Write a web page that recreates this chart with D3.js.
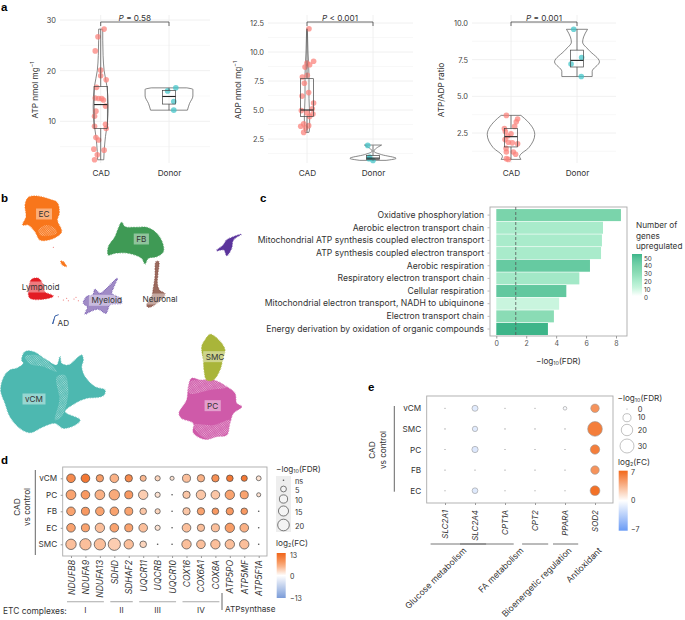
<!DOCTYPE html>
<html><head><meta charset="utf-8">
<script src="https://cdn.jsdelivr.net/npm/d3@7"></script>
<style>
html,body{margin:0;padding:0;background:#fff}
svg{display:block}
text{font-family:"Inter","Noto Sans",sans-serif;fill:#333}
</style></head><body>
<svg id="c" width="685" height="620"></svg>
<script>
// ---------- panel a ----------
const groupsA = ["CAD","Donor"];
const atpCadOffset = [.05,-.04,-.08,0,0,.08,-.06,-.08,-.03,.015,.04,.07,-.07,-.09,-.09,.07,.08,-.07,-.03,-.1,.05,-.05,-.09];
const atpCadValue  = [28.2,26.7,23.9,20.1,19,18.2,16.7,14.6,14.5,14.5,14.2,13,12,11,9,9.4,8.6,6.8,6.3,4.5,4.3,3.4,2.4];
const atpDonorOffset = [-.02,.1,.07,.07];
const atpDonorValue  = [16,16.6,13.9,12.2];
const adpCadOffset = [.03,.1,0,.04,-.03,.005,-.07,-.04,.025,-.075,.1,-.085,.08,0,.09,.04,-.095,-.05,.025,-.02,-.05];
const adpCadValue  = [12,9.2,9.05,8.9,8.7,8,7.85,7.3,6.5,6.2,5.6,4.95,5.1,4.75,4.65,4.45,3.6,3.8,3.65,3.45,3.07];
const adpDonorOffset = [-.08,-.05,0,-.06];
const adpDonorValue  = [1.95,.95,.65,.8];
const ratioCadOffset = [-.07,.1,.08,.055,-.1,-.085,0,-.05,-.09,-.04,.02,.1,-.075,-.07,.035,.07,-.07,-.04];
const ratioCadValue  = [3.7,3.45,3.27,2.95,2.8,2.6,2.45,2.3,2.05,1.87,1.83,1.76,1.45,1.2,1.2,1.05,.75,.7];
const ratioDonorOffset = [-.05,.07,-.09,.065];
const ratioDonorValue  = [9.57,7.65,7.2,6.35];
// violin outlines: value, half width (category units)
const atpCadViolinV = [28.2,26,23,20,17,13,10,7,4,2.4];
const atpCadViolinW = [.03,.03,.035,.05,.09,.11,.1,.07,.05,.045];
const atpDonorViolinV = [16.6,16.3,15,13.5,12.2];
const atpDonorViolinW = [.26,.35,.35,.3,.27];
const adpCadViolinV = [12,10,8,6,4.5,3.5,3.07];
const adpCadViolinW = [.005,.015,.03,.03,.04,.04,.03];
const adpDonorViolinV = [1.98,1.44,1.15,.83,.66];
const adpDonorViolinW = [.13,.015,.13,.35,.2];
const ratioCadViolinV = [3.7,3.3,2.4,1.5,.9,.7];
const ratioCadViolinW = [.15,.25,.36,.27,.13,.15];
const ratioDonorViolinV = [9.57,9.05,8.7,8.15,7.35,6.7,6.35];
const ratioDonorViolinW = [.16,.1,.085,.18,.34,.23,.23];
// box stats: whisker low, q1, median, q3, whisker high
const atpCadBox = [2.4,8.6,13.3,16.9,28.2];
const atpDonorBox = [12.2,13.4,14.9,16.1,16.6];
const adpCadBox = [3.07,4.45,5,7.7,12];
const adpDonorBox = [.65,.72,.85,1.08,1.95];
const ratioCadBox = [.7,1.55,2.25,2.8,3.7];
const ratioDonorBox = [6.35,7,7.45,8.15,9.57];
const atpTicks=[10,20,30], atpMinor=[5,15,25];
const adpTicks=[2.5,5,7.5,10,12.5], adpMinor=[1.25,3.75,6.25,8.75,11.25];
const ratioTicks=[2.5,5,7.5,10], ratioMinor=[1.25,3.75,6.25,8.75];

// ---------- panel b: cluster outlines, in picture-read UMAP units ----------
const umapEC=[[85,22],[110,18],[150,28],[172,38],[178,70],[172,90],[185,125],[170,140],[145,150],[120,150],[105,125],[85,105],[68,105],[78,80],[75,45]];
const umapECHole=[[115,120],[140,105],[165,115],[170,130],[145,138],[120,135]];
const umapECSmall=[[182,213],[190,215],[200,230],[188,226]];
const umapFB=[[365,97],[375,110],[405,112],[440,112],[470,130],[488,160],[490,185],[470,200],[445,205],[435,222],[425,205],[385,190],[345,190],[325,195],[325,170],[345,140],[355,115]];
const umapNeuronal=[[468,215],[476,215],[474,250],[472,280],[478,300],[495,312],[470,340],[445,352],[440,345],[455,320],[460,295],[465,260]];
const umapOther=[[724,133],[700,150],[695,175],[680,197],[672,180],[650,182],[670,165],[680,150]];
const umapLymphoid=[[95,268],[115,265],[130,285],[135,305],[160,318],[140,326],[90,325],[85,305]];
const umapBridge=[[160,172],[175,320],[190,330],[205,332],[200,325],[222,327],[235,332],[228,322]];
const umapMyeloid=[[285,298],[300,310],[320,295],[345,270],[352,265],[340,295],[335,310],[362,325],[365,340],[330,345],[318,370],[295,358],[270,365],[255,372],[262,350],[250,340],[262,318],[278,315]];
const umapAD=[[176,374],[165,378],[158,402],[162,388]];
const umapVCM=[[50,535],[70,520],[65,510],[75,485],[100,485],[140,510],[170,525],[180,500],[185,520],[205,525],[245,495],[250,510],[245,530],[255,560],[285,590],[315,600],[312,615],[295,622],[260,625],[225,640],[195,665],[240,690],[225,705],[190,715],[165,700],[130,710],[90,728],[60,715],[30,680],[15,640],[2,600],[12,560],[30,540]];
const umapVCMThinA=[[170,560],[195,555],[205,600],[200,640],[185,680],[165,690],[178,630]];
const umapVCMThinB=[[75,500],[110,495],[150,520],[170,545],[130,530],[90,522]];
const umapPCThinA=[[580,705],[640,705],[690,690],[678,732],[615,745]];
const umapPCThinB=[[570,575],[640,572],[680,592],[630,600],[568,610]];
const umapSMC=[[630,433],[645,440],[665,460],[675,480],[668,510],[660,540],[640,570],[620,570],[612,540],[610,510],[605,470],[615,450]];
const umapPC=[[575,565],[600,570],[640,570],[680,590],[705,610],[710,640],[725,650],[700,670],[690,700],[680,735],[650,740],[615,748],[580,728],[580,700],[545,685],[537,670],[560,630],[565,590]];
const umapLabels=["EC","FB","Lymphoid","Myeloid","Neuronal","AD","vCM","SMC","PC"];
const umapLabelX=[132,424,122,320,480,190,102,645,638];
const umapLabelY=[72,147,291,331,327,399,627,500,647];

// ---------- panel c ----------
const pathways=["Oxidative phosphorylation","Aerobic electron transport chain","Mitochondrial ATP synthesis coupled electron transport","ATP synthesis coupled electron transport","Aerobic respiration","Respiratory electron transport chain","Cellular respiration","Mitochondrial electron transport, NADH to ubiquinone","Electron transport chain","Energy derivation by oxidation of organic compounds"];
const pathwayFDR=[8.33,7.13,7.06,7.0,6.26,5.55,4.68,4.2,3.85,3.45];
const pathwayGenes=[38,20,20,20,45,22,46,10,30,55];
const fdrTicks=[0,2,4,6,8];
const geneTicks=[0,10,20,30,40,50];
const fdrCut=1.3;

// ---------- panel d ----------
const etcGenes=["NDUFB8","NDUFA9","NDUFA13","SDHD","SDHAF2","UQCR11","UQCRB","UQCR10","COX16","COX6A1","COX8A","ATP5PO","ATP5MF","ATP5F1A"];
const etcRows=["vCM","PC","FB","EC","SMC"];
const etcFDR=[
 [11,11,8,11,8,5.5,4,2.5,9.5,8,8,6.5,5.5,3.5],
 [14,11,14,16,9.5,13,4,.4,8,13,11,13,9.5,2.5],
 [11,9.5,11,11,9.5,6.5,4,.4,8,8,6.5,8,6.5,.4],
 [11,9.5,13,11,9.5,11,4,.4,11,8,9.5,13,11,.4],
 [16,19,19,22,13,6.5,.4,.4,13,11,13,13,13,.4]];
const etcFC=[
 [9,11,7,5.5,9,5,3,2,4.5,5.5,8.5,11,11,2],
 [6.5,7.5,5.5,6,7.5,3.5,2,1,4,4,4,6.5,6.5,2],
 [6.5,7.5,6.5,6.5,6.5,4,3,1,4,6.5,7.5,7.5,7.5,1],
 [6.5,6.5,4.5,6.5,6.5,4.5,2,1,4.5,4.5,4.5,7,5.5,1],
 [4.5,4.5,4.5,3.5,4.5,3,2,1,4.5,4.5,4.5,4.5,4.5,1]];
const etcGroups=["I","II","III","IV"];
const etcGroupFrom=[0,3,5,8], etcGroupTo=[2,4,7,10];
const etcSizeTicks=[.4,5,10,15,20], etcSizeLabels=["ns","5","10","15","20"];
const etcFCTicks=[13,0,-13];

// ---------- panel e ----------
const metGenes=["SLC2A1","SLC2A4","CPT1A","CPT2","PPARA","SOD2"];
const metRows=["vCM","SMC","PC","FB","EC"];
const metFDR=[
 [.1,5.5,.1,.1,2,11],
 [.1,4.4,.1,.1,.1,33],
 [.1,6,.1,.1,.1,13.5],
 [.1,.1,.1,.1,.1,11],
 [.1,5,.1,.1,.1,14.5]];
const metFC=[
 [0,-1.4,0,0,-.3,5],
 [0,-1.4,0,0,0,6],
 [0,-1.6,0,0,0,6],
 [0,0,0,0,0,5],
 [0,-1.5,0,0,0,6.6]];
const metGroups=["Glucose metabolism","FA metabolism","Bioenergetic regulation","Antioxidant"];
const metGroupFrom=[-.48,.5,2.57,3.6], metGroupTo=[1.37,2.29,3.44,4.44];
const metSizeTicks=[.1,10,20,30], metSizeLabels=["0","10","20","30"];
const metFCTicks=[7,0,-7];

// ---------- drawing ----------
const svg=d3.select("#c");
const defs=svg.append("defs");
const FS=8.2;
function label(x,y,t,o={}){
  const e=svg.append("text").attr("x",x).attr("y",y).text(t)
    .attr("font-size",o.size||FS).attr("text-anchor",o.anchor||"start")
    .attr("dominant-baseline","central");
  if(o.rotate!==undefined)e.attr("transform",`rotate(${o.rotate},${x},${y})`);
  if(o.italic)e.attr("font-style","italic");
  if(o.fill)e.style("fill",o.fill);
  if(o.bold)e.attr("font-weight",700);
  return e;
}
function letter(x,y,t){label(x,y,t,{size:11.5,bold:true}).style("fill","#000").style("font-family","Liberation Sans");}
letter(1,7,"a");letter(1,198,"b");letter(260,198,"c");letter(1,460,"d");letter(368,387,"e");

function subLabel(x,y,a,sub,b,size){
  const t=svg.append("text").attr("x",x).attr("y",y).attr("font-size",size||FS).attr("dominant-baseline","central");
  t.append("tspan").text(a);
  t.append("tspan").text(sub).attr("font-size",(size||FS)*.65).attr("dy",2);
  t.append("tspan").text(b).attr("dy",-2);
  return t;
}

function violinPanel(cfg){
  const g=svg.append("g");
  const x=d3.scaleLinear().domain([0,1]).range(cfg.xr);
  const y=d3.scaleLinear().domain(cfg.yd).range(cfg.yr);
  // grid
  g.append("g").selectAll("line").data(cfg.minor).join("line")
    .attr("x1",cfg.gx[0]).attr("x2",cfg.gx[1]).attr("y1",y).attr("y2",y).attr("stroke","#f3f3f3").attr("stroke-width",.6);
  g.append("g").selectAll("line").data(cfg.ticks).join("line")
    .attr("x1",cfg.gx[0]).attr("x2",cfg.gx[1]).attr("y1",y).attr("y2",y).attr("stroke","#ececec").attr("stroke-width",.8);
  g.append("g").selectAll("line").data([0,1]).join("line")
    .attr("x1",x).attr("x2",x).attr("y1",15).attr("y2",163).attr("stroke","#ececec").attr("stroke-width",.8);
  // axis
  const ax=g.append("g").attr("transform",`translate(${cfg.gx[0]-1},0)`)
    .call(d3.axisLeft(y).tickValues(cfg.ticks).tickSize(0).tickFormat(cfg.fmt));
  ax.select(".domain").remove();
  ax.selectAll("text").attr("font-size",7.4).style("font-family","Inter").style("fill","#444");
  // violins
  const vio=(V,W,c)=>{
    const data=V.map((v,i)=>[v,W[i]]);
    g.append("path").attr("d",d3.area().curve(d3.curveMonotoneY)
      .y(d=>y(d[0])).x0(d=>x(c-d[1])).x1(d=>x(c+d[1]))(data))
      .attr("fill","none").attr("stroke","#555").attr("stroke-width",.7);
  };
  vio(cfg.v0,cfg.w0,0);vio(cfg.v1,cfg.w1,1);
  // points
  const pts=(O,V,c,col)=>g.append("g").selectAll("circle").data(V).join("circle")
    .attr("cx",(d,i)=>x(c+O[i])).attr("cy",d=>y(d)).attr("r",2.8).attr("fill",col).attr("opacity",.72);
  pts(cfg.o0,cfg.p0,0,"#fb7f78");pts(cfg.o1,cfg.p1,1,"#3fc4c8");
  // boxes
  const box=(b,c)=>{
    const hw=.097;
    g.append("line").attr("x1",x(c)).attr("x2",x(c)).attr("y1",y(b[0])).attr("y2",y(b[1])).attr("stroke","#444").attr("stroke-width",.7);
    g.append("line").attr("x1",x(c)).attr("x2",x(c)).attr("y1",y(b[3])).attr("y2",y(b[4])).attr("stroke","#444").attr("stroke-width",.7);
    g.append("rect").attr("x",x(c-hw)).attr("width",x(c+hw)-x(c-hw)).attr("y",y(b[3])).attr("height",y(b[1])-y(b[3]))
      .attr("fill","none").attr("stroke","#444").attr("stroke-width",.7);
    g.append("line").attr("x1",x(c-hw)).attr("x2",x(c+hw)).attr("y1",y(b[2])).attr("y2",y(b[2])).attr("stroke","#222").attr("stroke-width",1.1);
  };
  box(cfg.b0,0);box(cfg.b1,1);
  // bracket
  g.append("path").attr("d",`M${x(0)},26V22H${x(1)}V26`).attr("fill","none").attr("stroke","#444").attr("stroke-width",.8);
  const t=label(x(.5),17.6,"",{anchor:"middle"});
  t.append("tspan").text("P").attr("font-style","italic");
  t.append("tspan").text(" "+cfg.p);
  groupsA.forEach((n,i)=>label(x(i)+.5,173,n,{anchor:"middle"}));
  // y title
  const yt=label(cfg.lx,90,"",{anchor:"middle",rotate:-90});
  yt.append("tspan").text(cfg.title);
  if(cfg.sup){yt.append("tspan").text(cfg.sup).attr("font-size",5.4).attr("dy",-3);}
}
const f1=d3.format(".1f");
violinPanel({xr:[100.7,169],yd:[10,30],yr:[121.3,20],gx:[60,210],ticks:atpTicks,minor:atpMinor,fmt:d3.format("d"),
  o0:atpCadOffset,p0:atpCadValue,o1:atpDonorOffset,p1:atpDonorValue,v0:atpCadViolinV,w0:atpCadViolinW,v1:atpDonorViolinV,w1:atpDonorViolinW,
  b0:atpCadBox,b1:atpDonorBox,p:"= 0.58",title:"ATP nmol mg",sup:"−1",lx:35});
violinPanel({xr:[307,373],yd:[2.5,12.5],yr:[139,23],gx:[268,413],ticks:adpTicks,minor:adpMinor,fmt:f1,
  o0:adpCadOffset,p0:adpCadValue,o1:adpDonorOffset,p1:adpDonorValue,v0:adpCadViolinV,w0:adpCadViolinW,v1:adpDonorViolinV,w1:adpDonorViolinW,
  b0:adpCadBox,b1:adpDonorBox,p:"< 0.001",title:"ADP nmol mg",sup:"−1",lx:238});
violinPanel({xr:[511,577],yd:[2.5,10],yr:[133,23],gx:[472,616],ticks:ratioTicks,minor:ratioMinor,fmt:f1,
  o0:ratioCadOffset,p0:ratioCadValue,o1:ratioDonorOffset,p1:ratioDonorValue,v0:ratioCadViolinV,w0:ratioCadViolinW,v1:ratioDonorViolinV,w1:ratioDonorViolinW,
  b0:ratioCadBox,b1:ratioDonorBox,p:"= 0.001",title:"ATP/ADP ratio",lx:441});

// panel b
const ux=d3.scaleLinear().domain([0,810]).range([0,270]);
const uy=d3.scaleLinear().domain([0,810]).range([190,460]);
const blob=d3.line().x(d=>ux(d[0])).y(d=>uy(d[1])).curve(d3.curveCatmullRomClosed.alpha(.5));
function cluster(pts,fill,edge){
  svg.append("path").attr("d",blob(pts)).attr("fill",fill).attr("stroke",edge||fill)
     .attr("stroke-width",1.2).attr("stroke-dasharray","0.5 1.1");
}
const speck=defs.append("pattern").attr("id","speck").attr("width",1.5).attr("height",1.5).attr("patternUnits","userSpaceOnUse").attr("patternTransform","rotate(37)");
speck.append("circle").attr("cx",.5).attr("cy",.5).attr("r",.38).attr("fill","#fff");
function thin(pts){svg.append("path").attr("d",blob(pts)).attr("fill","url(#speck)");}
cluster(umapVCM,"#4db8b0");
thin(umapVCMThinA);thin(umapVCMThinB);
cluster(umapPC,"#cf5aa9");
thin(umapPCThinA);thin(umapPCThinB);
cluster(umapSMC,"#a9b53a");
cluster(umapEC,"#f8761b");
thin(umapECHole);
cluster(umapECSmall,"#f8761b");
cluster(umapFB,"#3f9a55");
cluster(umapNeuronal,"#9a6a5e","#7d3a2e");
cluster(umapOther,"#5b349c");
cluster(umapLymphoid,"#e31c24");
cluster(umapMyeloid,"#a08bc6","#5e3fa5");
svg.append("path").attr("d",d3.line().x(d=>ux(d[0])).y(d=>uy(d[1]))(umapAD)).attr("fill","none").attr("stroke","#3a62a8").attr("stroke-width",1);
svg.append("g").selectAll("circle").data(umapBridge).join("circle")
  .attr("cx",d=>ux(d[0])).attr("cy",d=>uy(d[1])).attr("r",.5).attr("fill","#e8504f");
umapLabels.forEach((n,i)=>{
  const x=ux(umapLabelX[i]),y=uy(umapLabelY[i]);
  const t=label(x,y,n,{anchor:"middle"});
  const b=t.node().getBBox();
  svg.insert("rect",()=>t.node()).attr("x",b.x-2.5).attr("y",b.y-.5).attr("width",b.width+5).attr("height",b.height+1)
    .attr("fill","#fff").attr("opacity",.42);
});

// panel c
const cx=d3.scaleLinear().domain([0,8]).range([496.3,616]);
const cy=d3.scaleBand().domain(pathways).range([208.7,335.4]).paddingInner(.05).paddingOuter(.03);
const geneColor=d3.scaleLinear().domain([0,10,20,30,40,50,55]).range(["#ffffff","#c9f5de","#a9ebcb","#8adcb5","#76d2a9","#55c299","#3db589"]);
svg.append("rect").attr("x",490).attr("y",207).attr("width",137).attr("height",129).attr("fill","#fff").attr("stroke","#aaa").attr("stroke-width",.9);
svg.append("g").selectAll("rect").data(pathways).join("rect")
  .attr("x",cx(0)).attr("y",d=>cy(d)).attr("height",cy.bandwidth())
  .attr("width",(d,i)=>cx(pathwayFDR[i])-cx(0)).attr("fill",(d,i)=>geneColor(pathwayGenes[i]));
svg.append("line").attr("x1",cx(fdrCut)).attr("x2",cx(fdrCut)).attr("y1",207).attr("y2",336).attr("stroke","#555").attr("stroke-width",.8).attr("stroke-dasharray","3 2");
const cax=svg.append("g").attr("transform","translate(0,336)").call(d3.axisBottom(cx).tickValues(fdrTicks).tickSize(2.5).tickPadding(3));
cax.select(".domain").remove();cax.selectAll("line").attr("stroke","#999");
cax.selectAll("text").attr("font-size",7).style("font-family","Inter").style("fill","#555");
const cay=svg.append("g").attr("transform","translate(490,0)").call(d3.axisLeft(cy).tickSize(2.5).tickPadding(3.5));
cay.select(".domain").remove();cay.selectAll("line").attr("stroke","#bbb");
cay.selectAll("text").attr("font-size",8.65).style("font-family","Inter").style("fill","#333");
subLabel(536,360.5,"−log","10","(FDR)");
label(636,225,"Number of");label(636,236,"genes");label(636,246,"upregulated");
function colorBar(id,x,y0,y1,w,color,domain){
  const grad=defs.append("linearGradient").attr("id",id).attr("x1",0).attr("x2",0).attr("y1",1).attr("y2",0);
  d3.range(0,1.001,.1).forEach(t=>grad.append("stop").attr("offset",t).attr("stop-color",color(domain[0]+t*(domain[1]-domain[0]))));
  svg.append("rect").attr("x",x).attr("y",y0).attr("width",w).attr("height",y1-y0).attr("fill",`url(#${id})`);
}
colorBar("gGenes",632,254,296,10,geneColor,[0,55]);
const gy=d3.scaleLinear().domain([0,50]).range([297.5,258.5]);
geneTicks.forEach(v=>label(644,gy(v),v,{size:6.3}));

// panel d
const fcD=d3.scaleLinear().domain([-13,0,6.5,13]).range(["#7b9cd8","#ffffff","#f9a36f","#f0651a"]);
const dx=d3.scalePoint().domain(etcGenes).range([71,258.7]);
const dy=d3.scalePoint().domain(etcRows).range([478.3,544.3]);
const rD=d3.scaleSqrt().domain([0,25]).range([0,6.5]);
svg.append("rect").attr("x",62.7).attr("y",467).attr("width",204.3).attr("height",89).attr("fill","#fff").attr("stroke","#aaa").attr("stroke-width",.9);
etcRows.forEach((r,i)=>etcGenes.forEach((g,j)=>{
  const v=etcFDR[i][j],ns=v<1;
  svg.append("circle").attr("cx",dx(g)).attr("cy",dy(r)).attr("r",rD(v))
    .attr("fill",ns?"#555":fcD(etcFC[i][j])).attr("stroke","#444").attr("stroke-width",ns?0:.7);
}));
const day=svg.append("g").attr("transform","translate(62.7,0)").call(d3.axisLeft(dy).tickSize(2).tickPadding(3.5));
day.select(".domain").remove();day.selectAll("line").attr("stroke","#999");
day.selectAll("text").attr("font-size",FS).style("font-family","Inter").style("fill","#333");
const dax=svg.append("g").attr("transform","translate(0,556)").call(d3.axisBottom(dx).tickSize(2).tickPadding(3));
dax.select(".domain").remove();dax.selectAll("line").attr("stroke","#999");
dax.selectAll("text").attr("font-size",8.6).style("font-family","Inter").style("fill","#333").attr("font-style","italic")
  .attr("text-anchor","end").attr("transform","rotate(-90)").attr("x",-4).attr("y",0).attr("dy",".35em");
svg.append("line").attr("x1",35.3).attr("x2",35.3).attr("y1",470).attr("y2",555).attr("stroke","#555").attr("stroke-width",.9);
label(16.5,507,"CAD",{anchor:"middle",rotate:-90});
label(27,507,"vs control",{anchor:"middle",rotate:-90});
etcGroups.forEach((n,i)=>{
  const a=dx(etcGenes[etcGroupFrom[i]])-4,b=dx(etcGenes[etcGroupTo[i]])+4;
  svg.append("line").attr("x1",a).attr("x2",b).attr("y1",601.7).attr("y2",601.7).attr("stroke","#aaa").attr("stroke-width",1.1);
  label((a+b)/2,610,n,{anchor:"middle"});
});
label(3,610.5,"ETC complexes:",{size:8.4});
svg.append("line").attr("x1",222).attr("x2",222).attr("y1",593).attr("y2",610).attr("stroke","#555").attr("stroke-width",.9);
label(225,609,"ATPsynthase");
subLabel(276,468.5,"−log","10","(FDR)");
svg.append("rect").attr("x",276).attr("y",476).attr("width",15).attr("height",56).attr("fill","#eeeeee");
const dLegY=[480.3,489,499,511,525];
etcSizeTicks.forEach((v,i)=>{
  svg.append("circle").attr("cx",283.5).attr("cy",dLegY[i]).attr("r",rD(v)).attr("fill",i?"#f4f4f4":"#555").attr("stroke","#444").attr("stroke-width",i?.7:0);
  label(295,dLegY[i]+1,etcSizeLabels[i],{size:7.4});
});
subLabel(276,543,"log","2","(FC)");
colorBar("gD",276.7,553,598,9,fcD,[-13,13]);
const dbar=d3.scaleLinear().domain([-13,13]).range([598,555]);
etcFCTicks.forEach(v=>label(290,dbar(v),v<0?"−13":v,{size:7}));

// panel e
const fcE=d3.scaleLinear().domain([-7,0,7]).range(["#6a9bf5","#ffffff","#f2681a"]);
const ex=d3.scalePoint().domain(metGenes).range([445,595]);
const ey=d3.scalePoint().domain(metRows).range([408.3,490.7]);
const rE=d3.scaleSqrt().domain([0,30]).range([0,7]);
svg.append("rect").attr("x",426.7).attr("y",396).attr("width",186.3).attr("height",107).attr("fill","#fff").attr("stroke","#aaa").attr("stroke-width",.9);
metRows.forEach((r,i)=>metGenes.forEach((g,j)=>{
  const v=metFDR[i][j],tiny=v<1;
  svg.append("circle").attr("cx",ex(g)).attr("cy",ey(r)).attr("r",tiny?.55:rE(v))
    .attr("fill",tiny?"#888":fcE(metFC[i][j])).attr("stroke","#999").attr("stroke-width",tiny?0:.6);
}));
const eay=svg.append("g").attr("transform","translate(426.7,0)").call(d3.axisLeft(ey).tickSize(0).tickPadding(5.5));
eay.select(".domain").remove();
eay.selectAll("text").attr("font-size",FS).style("font-family","Inter").style("fill","#333");
const eax=svg.append("g").attr("transform","translate(0,503)").call(d3.axisBottom(ex).tickSize(2).tickPadding(3));
eax.select(".domain").remove();eax.selectAll("line").attr("stroke","#999");
eax.selectAll("text").attr("font-size",FS-.2).style("font-family","Inter").style("fill","#333").attr("font-style","italic")
  .attr("text-anchor","end").attr("transform","rotate(-90)").attr("x",-7).attr("y",0).attr("dy",".35em");
svg.append("line").attr("x1",394.3).attr("x2",394.3).attr("y1",406).attr("y2",491.7).attr("stroke","#555").attr("stroke-width",.9);
label(372,450,"CAD",{anchor:"middle",rotate:-90});
label(383,450,"vs control",{anchor:"middle",rotate:-90});
const gStep=ex.step();
const eGroupAnchorY=549;
metGroups.forEach((n,i)=>{
  const a=ex(metGenes[0])+metGroupFrom[i]*gStep,b=ex(metGenes[0])+metGroupTo[i]*gStep;
  svg.append("line").attr("x1",a).attr("x2",b).attr("y1",544).attr("y2",544).attr("stroke","#666").attr("stroke-width",.9);
});
const eLabelX=[465,522,570,600];
metGroups.forEach((n,i)=>label(eLabelX[i],eGroupAnchorY,n,{anchor:"end",rotate:-45,size:8.6}));
subLabel(617.5,397.5,"−log","10","(FDR)");
const eLegY=[409,417.7,430,446];
metSizeTicks.forEach((v,i)=>{
  svg.append("circle").attr("cx",627).attr("cy",eLegY[i]).attr("r",i?rE(v):.5).attr("fill",i?"#fff":"#888").attr("stroke","#999").attr("stroke-width",i?.6:0);
  label(637.7,eLegY[i],metSizeLabels[i],{size:7.4});
});
subLabel(618,462,"log","2","(FC)");
colorBar("gE",618.7,470.7,530.7,9,fcE,[-7,7]);
const ebar=d3.scaleLinear().domain([-7,7]).range([529,472]);
metFCTicks.forEach(v=>label(631,ebar(v),v<0?"−7":v,{size:7}));
</script>
</body></html>
